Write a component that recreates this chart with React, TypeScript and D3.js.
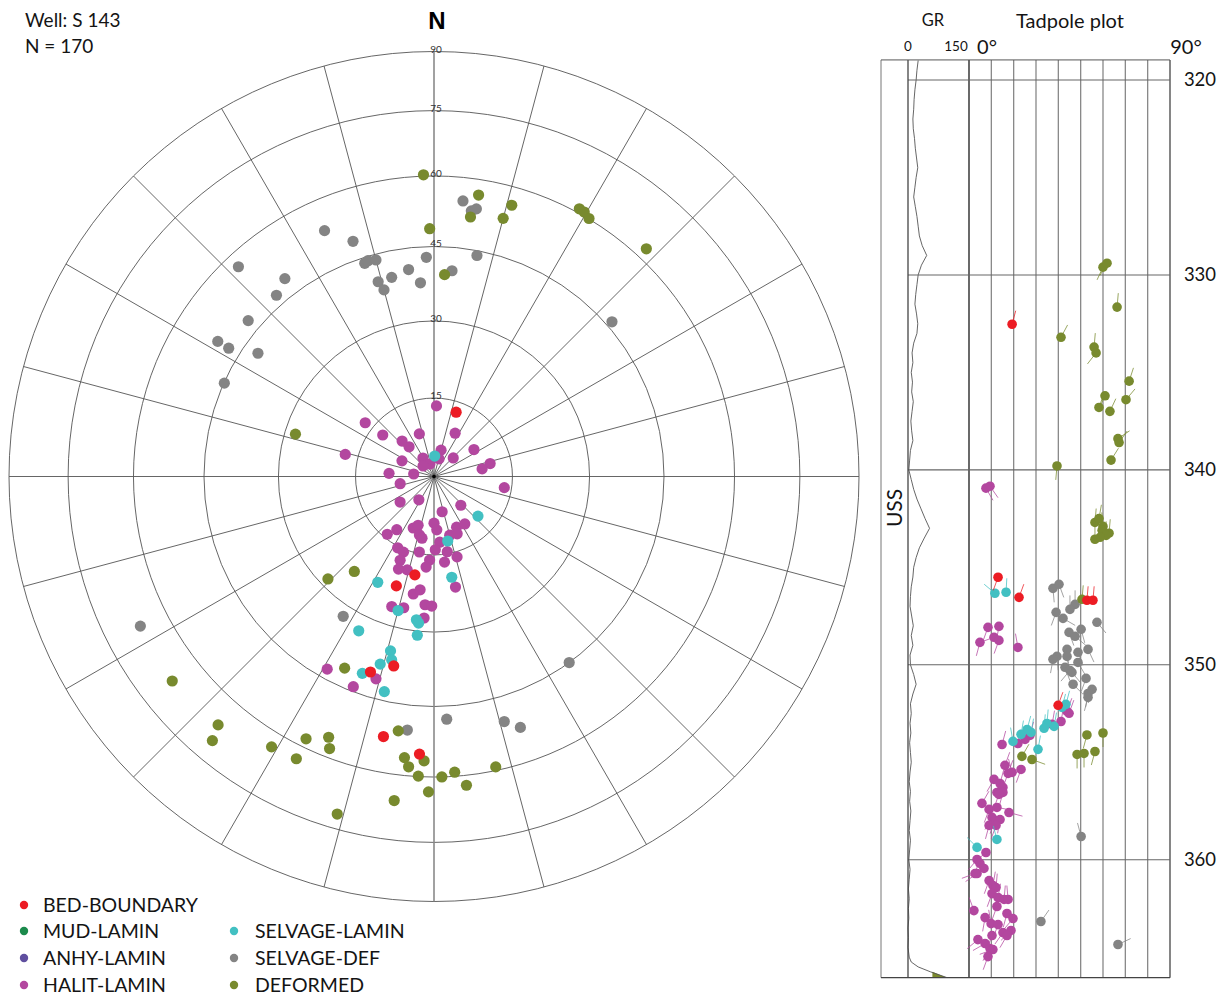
import React from 'react';
import * as d3 from 'd3';

// ---------- categories ----------
const CATEGORY_NAMES = ['BED-BOUNDARY', 'MUD-LAMIN', 'ANHY-LAMIN', 'HALIT-LAMIN', 'SELVAGE-LAMIN', 'SELVAGE-DEF', 'DEFORMED'];
const CATEGORY_COLORS = ['#ec1c24', '#1b8a4c', '#5f4f9f', '#b3479f', '#42c0c2', '#848484', '#788a2e'];

// ---------- stereonet data: [azimuth, dip] ----------
const BED_BOUNDARY: number[][] = [[19, 13], [191, 19.2], [199, 22.2], [192, 37.6], [198, 40], [191, 52.3], [183, 55.1]];
const MUD_LAMIN: number[][] = [];
const ANHY_LAMIN: number[][] = [];
const HALIT_LAMIN: number[][] = [
  [2, 13.5], [308, 16.7], [309, 12.6], [341, 8.6], [26, 9.2], [318, 9.1], [320, 7.4], [15, 5.2], [56, 9.2], [46, 5.1],
  [296, 6.8], [329, 4.1], [342, 2.5], [314, 2.9], [16, 3.5], [77, 11], [81, 9.3], [274, 8.6], [277, 3.9], [99, 13.6],
  [258, 6.6], [233, 8.1], [213, 5.3], [137, 7.5], [167, 6.9], [219, 14.2], [215, 12.4], [202, 10.6], [198, 9.8], [194, 11.5],
  [191, 12], [180, 8.9], [177, 10.2], [156, 10.6], [147, 10.8], [165, 11.6], [158, 11.8], [175, 12.6], [179, 14], [170, 14.6],
  [164, 16], [173, 16.5], [183, 16], [185, 17.4], [207, 15.3], [202, 15.6], [191, 14.7], [202, 17.3], [196, 18.6], [201, 19],
  [169, 21.6], [190, 22.9], [187, 21.9], [198, 26.3], [193, 25.9], [184, 24.7], [181, 24.9], [184, 27.3], [209, 43], [196, 41],
  [201, 44], [284, 17.5],
];
const SELVAGE_LAMIN: number[][] = [
  [2, 3.9], [132, 11.3], [168, 12.6], [208, 23], [170, 19.6], [195, 26.7], [187, 27.8], [186, 28.4], [186, 30.8], [206, 33.2],
  [194, 34.8], [193, 36.5], [196, 37.9], [200, 40.8], [193, 43.1],
];
const SELVAGE_DEF: number[][] = [
  [336, 53.2], [341, 48.9], [342, 43.8], [343, 44.1], [345, 43.8], [358, 42.8], [353, 40.6], [348, 39.6], [344, 39.4], [345, 37.5],
  [356, 37.7], [317, 57], [323, 48.7], [319, 47.1], [6, 54.9], [8, 53], [9, 53.6], [11, 44], [5, 40.2], [49, 46.2],
  [310, 47.6], [302, 50.2], [302, 47.5], [305, 41.9], [294, 44.9], [213, 32.2], [243, 66.5], [186, 50.2], [144, 45], [177, 47.7],
  [164, 50.2], [161, 52.4],
];
const DEFORMED: number[][] = [
  [358, 60.3], [359, 48.7], [9, 56.6], [8, 51.7], [15, 52.8], [16, 56], [28.5, 60.9], [29.6, 60.8], [31, 60.1], [43, 62.4],
  [3, 39.3], [287, 27.9], [220, 23.8], [226, 28.4], [205, 41.2], [232, 67.1], [221, 66.4], [220, 70], [211, 63.3], [206, 58.1],
  [202, 55.8], [201, 58], [206, 63], [188, 50.6], [186, 56.1], [182, 56.5], [185, 58], [183, 59.9], [181, 63.3], [187, 65.8],
  [196, 71.5], [168, 59.2], [176, 59.1], [178.5, 60], [174, 62.2],
];

// ---------- tadpole data: [depth (m), dip, tail azimuth] ----------
const TP_BED_BOUNDARY: number[][] = [[332.53, 19.3, 15], [345.51, 13.0, 200], [346.54, 22.4, 20], [346.69, 52.8, 5], [346.69, 55.5, 5], [352.08, 39.9, 20]];
const TP_HALIT_LAMIN: number[][] = [
  [340.94, 7.6, 150], [340.84, 9.4, 145], [348.08, 8.5, 200], [348.03, 13.4, 190], [348.85, 4.9, 195], [348.59, 11.2, 250], [348.75, 13.4, 200],
  [349.11, 21.9, 350], [352.39, 43.9, 20], [352.49, 44.8, 20], [352.91, 41.2, 10], [353.06, 37.2, 10], [353.62, 27.3, 15], [353.83, 25.1, 15],
  [354.04, 21.9, 10], [354.09, 14.8, 15], [355.16, 16.1, 20], [355.57, 17.5, 20], [355.52, 19.3, 345], [355.37, 23.3, 200], [355.88, 11.2, 210],
  [356.09, 13.9, 15], [356.29, 15.2, 20], [356.55, 12.5, 10], [356.55, 15.2, 195], [356.65, 13.4, 200], [357.11, 5.8, 30], [357.42, 9.0, 200],
  [357.32, 12.5, 100], [357.58, 17.9, 105], [357.83, 10.3, 210], [357.99, 11.6, 200], [357.94, 13.9, 190], [358.24, 9.0, 195], [358.24, 12.1, 200],
  [359.63, 7.6, 230], [359.99, 3.6, 220], [360.19, 4.9, 215], [360.45, 6.7, 240], [360.71, 3.6, 235], [360.71, 2.7, 250], [361.07, 9.0, 200],
  [361.32, 10.7, 10], [361.43, 12.1, 5], [361.74, 10.3, 200], [361.94, 13.0, 10], [362.04, 15.7, 5], [362.04, 17.5, 355], [362.61, 2.2, 340],
  [362.97, 7.2, 190], [362.4, 12.5, 200], [362.76, 17.0, 195], [363.28, 9.9, 350], [363.33, 13.0, 200], [363.02, 19.7, 220], [363.74, 15.2, 215],
  [363.63, 18.8, 225], [363.89, 17.0, 210], [363.89, 10.3, 200], [364.1, 4.0, 230], [364.3, 7.2, 240], [364.56, 9.4, 210], [364.61, 10.7, 250],
  [364.97, 8.5, 200],
];
const TP_SELVAGE_LAMIN: number[][] = [
  [346.33, 11.6, 310], [346.28, 16.6, 3], [352.19, 41.6, 15], [352.03, 43.4, 15], [353.16, 38.1, 10], [353.01, 34.9, 5], [353.26, 33.6, 5],
  [354.34, 30.9, 10], [353.47, 27.8, 10], [353.32, 26.0, 15], [353.57, 23.3, 10], [353.93, 19.7, 350], [358.96, 12.5, 345], [359.37, 3.6, 315],
];
const TP_SELVAGE_DEF: number[][] = [
  [346.08, 37.6, 175], [345.87, 40.3, 160], [346.9, 47.5, 0], [347.16, 45.2, 0], [347.31, 39.0, 200], [347.62, 42.1, 120], [347.82, 57.3, 140],
  [348.34, 44.8, 160], [348.54, 47.5, 130], [348.18, 50.2, 165], [349.21, 53.3, 155], [349.36, 48.8, 160], [349.21, 43.9, 175], [349.57, 43.9, 170],
  [349.57, 39.4, 175], [349.72, 37.6, 190], [349.88, 48.8, 150], [350.13, 43.0, 160], [350.29, 45.2, 220], [350.39, 46.1, 140], [351.0, 46.6, 135],
  [350.7, 52.4, 200], [351.26, 55.1, 195], [351.47, 53.3, 190], [351.67, 53.3, 195], [358.81, 50.2, 345], [363.17, 32.2, 35], [364.35, 66.7, 65],
];
const TP_DEFORMED: number[][] = [
  [329.6, 60.0, 205], [329.4, 61.8, 210], [331.65, 66.3, 5], [333.2, 41.2, 28], [333.7, 56.0, 5], [334.0, 56.9, 218], [335.45, 71.7, 18],
  [336.2, 60.9, 205], [336.4, 70.3, 40], [336.8, 58.2, 20], [337.0, 63.1, 25], [338.4, 66.7, 56], [338.6, 67.2, 35], [339.5, 63.6, 32],
  [339.8, 39.4, 185], [342.7, 56.4, 5], [342.5, 58.2, 10], [342.9, 60.0, 355], [343.1, 59.6, 0], [343.25, 62.7, 5], [343.36, 61.4, 0],
  [343.46, 58.7, 10], [343.56, 56.4, 0], [346.64, 50.6, 5], [354.7, 23.7, 30], [354.86, 28.2, 110], [353.6, 52.8, 195], [353.5, 60.0, 180],
  [354.6, 48.4, 180], [354.55, 51.5, 180], [354.45, 56.4, 195],
];

// ---------- GR log ----------
const GR_DEPTH = [
  319.0, 319.5, 320.0, 320.5, 321.0, 321.5, 322.0, 322.5, 323.0, 323.5, 324.0, 324.5, 325.0, 325.5, 326.0, 326.5, 327.0, 327.5, 328.0, 328.5,
  329.0, 329.5, 330.0, 330.5, 331.0, 331.5, 332.0, 332.5, 333.0, 333.5, 334.0, 334.5, 335.0, 335.5, 336.0, 336.5, 337.0, 337.5, 338.0, 338.5,
  339.0, 339.5, 340.0, 340.5, 341.0, 341.5, 342.0, 342.5, 343.0, 343.5, 344.0, 344.5, 345.0, 345.5, 346.0, 346.5, 347.0, 347.5, 348.0, 348.5,
  349.0, 349.5, 350.0, 350.5, 351.0, 351.5, 352.0, 352.5, 353.0, 353.5, 354.0, 354.5, 355.0, 355.5, 356.0, 356.5, 357.0, 357.5, 358.0, 358.5,
  359.0, 359.5, 360.0, 360.5, 361.0, 361.5, 362.0, 362.5, 363.0, 363.5, 364.0, 364.5, 365.0, 365.25, 365.5, 365.75, 366.05,
];
const GR_VALUE = [
  25, 22, 20, 17, 15, 14, 12, 13, 16, 18, 21, 24, 20, 17, 14, 18, 22, 25, 28, 35,
  46, 33, 25, 22, 19, 17, 21, 24, 22, 14, 10, 12, 8, 11, 9, 13, 10, 7, 9, 12,
  6, 4, 2, 8, 14, 22, 32, 42, 53, 40, 28, 20, 14, 12, 8, 6, 5, 9, 13, 8,
  12, 5, 6, 14, 20, 12, 6, 8, 5, 7, 4, 6, 8, 5, 3, 6, 4, 7, 5, 3,
  6, 4, 2, 5, 3, 1, 3, 1, 2, 0, 1, 0, 3, 8, 25, 55, 96,
];
const GR_CUTOFF = 60;

const DIP_RINGS = [15, 30, 45, 60, 75, 90];
const AZ_SPOKES = [0, 15, 30, 45, 60, 75, 90, 105, 120, 135, 150, 165];
const DEPTH_TICKS = [320, 330, 340, 350, 360];
const TADPOLE_GRID = [0, 10, 20, 30, 40, 50, 60, 70, 80, 90];

const FONT = "Lato, 'Open Sans', sans-serif";
const INK = '#141414';

export default function App() {
  // stereonet geometry (equal-area projection)
  const cx = 434, cy = 476.5, R = 425;
  const rad = d3.scaleLinear().domain([0, Math.sin(Math.PI / 4)]).range([0, R]);
  const rOf = (dip: number) => rad(Math.sin((dip * Math.PI) / 360));
  const proj = (az: number, dip: number) => {
    const r = rOf(dip);
    const a = (az * Math.PI) / 180;
    return [cx + r * Math.sin(a), cy - r * Math.cos(a)];
  };

  // tadpole geometry
  const xDip = d3.scaleLinear().domain([0, 90]).range([969, 1170]);
  const yDepth = d3.scaleLinear().domain([320, 360]).range([80, 859.7]);
  const xGR = d3.scaleLinear().domain([0, 150]).range([908, 969]);
  const topY = yDepth(318.97), botY = yDepth(366.05);

  const grPts = GR_DEPTH.map((d, i) => [GR_VALUE[i], d] as [number, number]);
  const grLine = d3.line<[number, number]>().x((p) => xGR(p[0])).y((p) => yDepth(p[1]));
  const grArea = d3.area<[number, number]>()
    .y((p) => yDepth(p[1]))
    .x0(() => xGR(GR_CUTOFF))
    .x1((p) => xGR(Math.max(p[0], GR_CUTOFF)));

  const stereoSets: [number[][], number][] = [
    [SELVAGE_DEF, 5], [DEFORMED, 6], [MUD_LAMIN, 1], [ANHY_LAMIN, 2], [HALIT_LAMIN, 3], [SELVAGE_LAMIN, 4], [BED_BOUNDARY, 0],
  ];
  const tadSets: [number[][], number][] = [
    [TP_SELVAGE_DEF, 5], [TP_DEFORMED, 6], [TP_HALIT_LAMIN, 3], [TP_SELVAGE_LAMIN, 4], [TP_BED_BOUNDARY, 0],
  ];
  const TAIL = 14;

  const legendLeft = [0, 1, 2, 3];
  const legendRight = [4, 5, 6];
  const legendRowY = [905, 931, 958, 985];

  return (
    <svg width={1229} height={999} style={{ position: 'absolute', left: 0, top: 0, background: '#fff' }} fontFamily={FONT}>
      <rect x={0} y={0} width={1229} height={999} fill="#fff" />
      {/* header */}
      <text x={25} y={27} fontSize={19} fill={INK}>Well: S 143</text>
      <text x={25} y={53} fontSize={19} fill={INK}>N = 170</text>
      <text x={437} y={29} fontSize={24} fontWeight="bold" textAnchor="middle" fontFamily="'Liberation Sans', Arial, sans-serif" fill="#000">N</text>

      {/* stereonet grid */}
      <g fill="none" stroke="#555" strokeWidth={0.9}>
        {DIP_RINGS.map((d) => <circle key={d} cx={cx} cy={cy} r={rOf(d)} />)}
        {AZ_SPOKES.map((az) => {
          const [x1, y1] = proj(az, 90);
          const [x2, y2] = proj(az + 180, 90);
          return <line key={az} x1={x1} y1={y1} x2={x2} y2={y2} stroke={az === 0 ? '#8a8a8a' : '#555'} strokeWidth={az === 0 ? 1.6 : 0.9} />;
        })}
      </g>
      <circle cx={cx} cy={cy} r={1.8} fill="#000" />
      {DIP_RINGS.map((d) => (
        <text key={d} x={cx + 2} y={cy - rOf(d) + 1} fontSize={10} textAnchor="middle" fill="#333">{d}</text>
      ))}

      {/* stereonet points */}
      {stereoSets.map(([pts, ci]) => (
        <g key={ci} fill={CATEGORY_COLORS[ci]}>
          {pts.map((p, i) => {
            const [x, y] = proj(p[0], p[1]);
            return <circle key={i} cx={x} cy={y} r={5.6} />;
          })}
        </g>
      ))}

      {/* legend */}
      {legendLeft.map((ci, i) => (
        <g key={ci}>
          <circle cx={24} cy={legendRowY[i]} r={4.2} fill={CATEGORY_COLORS[ci]} />
          <text x={43} y={legendRowY[i] + 7} fontSize={19.5} fill={INK}>{CATEGORY_NAMES[ci]}</text>
        </g>
      ))}
      {legendRight.map((ci, i) => (
        <g key={ci}>
          <circle cx={234} cy={legendRowY[i + 1]} r={4.2} fill={CATEGORY_COLORS[ci]} />
          <text x={255} y={legendRowY[i + 1] + 7} fontSize={19.5} fill={INK}>{CATEGORY_NAMES[ci]}</text>
        </g>
      ))}

      {/* tadpole panel headers */}
      <text x={933} y={26} fontSize={16.5} textAnchor="middle" fill={INK}>GR</text>
      <text x={1070} y={28} fontSize={20} textAnchor="middle" fill={INK}>Tadpole plot</text>
      <text x={xGR(0)} y={51} fontSize={13.5} textAnchor="middle" fill={INK}>0</text>
      <text x={xGR(150) - 13} y={51} fontSize={13.5} textAnchor="middle" fill={INK}>150</text>
      <text x={xDip(0) + 18} y={54} fontSize={20} textAnchor="middle" fill={INK}>0°</text>
      <text x={xDip(90) + 16} y={54} fontSize={20} textAnchor="middle" fill={INK}>90°</text>
      <text transform="translate(902,508) rotate(-90)" fontSize={21} textAnchor="middle" fill={INK}>USS</text>

      {/* GR fill + curve */}
      <path d={grArea(grPts) || ''} fill="#7b8a2d" />
      <path d={grLine(grPts) || ''} fill="none" stroke="#555" strokeWidth={0.9} />

      {/* tadpole grid */}
      <g fill="none">
        {TADPOLE_GRID.map((g) => (
          <line key={g} x1={xDip(g)} x2={xDip(g)} y1={topY} y2={botY} stroke={g === 0 || g === 90 ? '#444' : '#888'} strokeWidth={g === 0 ? 1.6 : 1.3} />
        ))}
        {DEPTH_TICKS.map((d) => (
          <line key={d} x1={xGR(0)} x2={xDip(90)} y1={yDepth(d)} y2={yDepth(d)} stroke="#666" strokeWidth={1.1} />
        ))}
        <line x1={881} x2={881} y1={topY} y2={botY} stroke="#777" strokeWidth={1} />
        <line x1={xGR(0)} x2={xGR(0)} y1={topY} y2={botY} stroke="#444" strokeWidth={1.3} />
        <line x1={881} x2={xDip(90)} y1={topY} y2={topY} stroke="#555" strokeWidth={1} />
        <line x1={881} x2={xDip(90)} y1={botY} y2={botY} stroke="#444" strokeWidth={1.3} />
      </g>
      {DEPTH_TICKS.map((d) => (
        <text key={d} x={1200} y={yDepth(d) + 6} fontSize={18.5} textAnchor="middle" fill={INK}>{d}</text>
      ))}

      {/* tadpoles */}
      {tadSets.map(([pts, ci]) => (
        <g key={'t' + ci}>
          {pts.map((p, i) => {
            const x = xDip(p[1]), y = yDepth(p[0]);
            const a = (p[2] * Math.PI) / 180;
            return (
              <line key={i} x1={x} y1={y} x2={x + TAIL * Math.sin(a)} y2={y - TAIL * Math.cos(a)}
                stroke={CATEGORY_COLORS[ci]} strokeOpacity={0.75} strokeWidth={1} />
            );
          })}
          {pts.map((p, i) => (
            <circle key={'c' + i} cx={xDip(p[1])} cy={yDepth(p[0])} r={4.8} fill={CATEGORY_COLORS[ci]} />
          ))}
        </g>
      ))}
    </svg>
  );
}
